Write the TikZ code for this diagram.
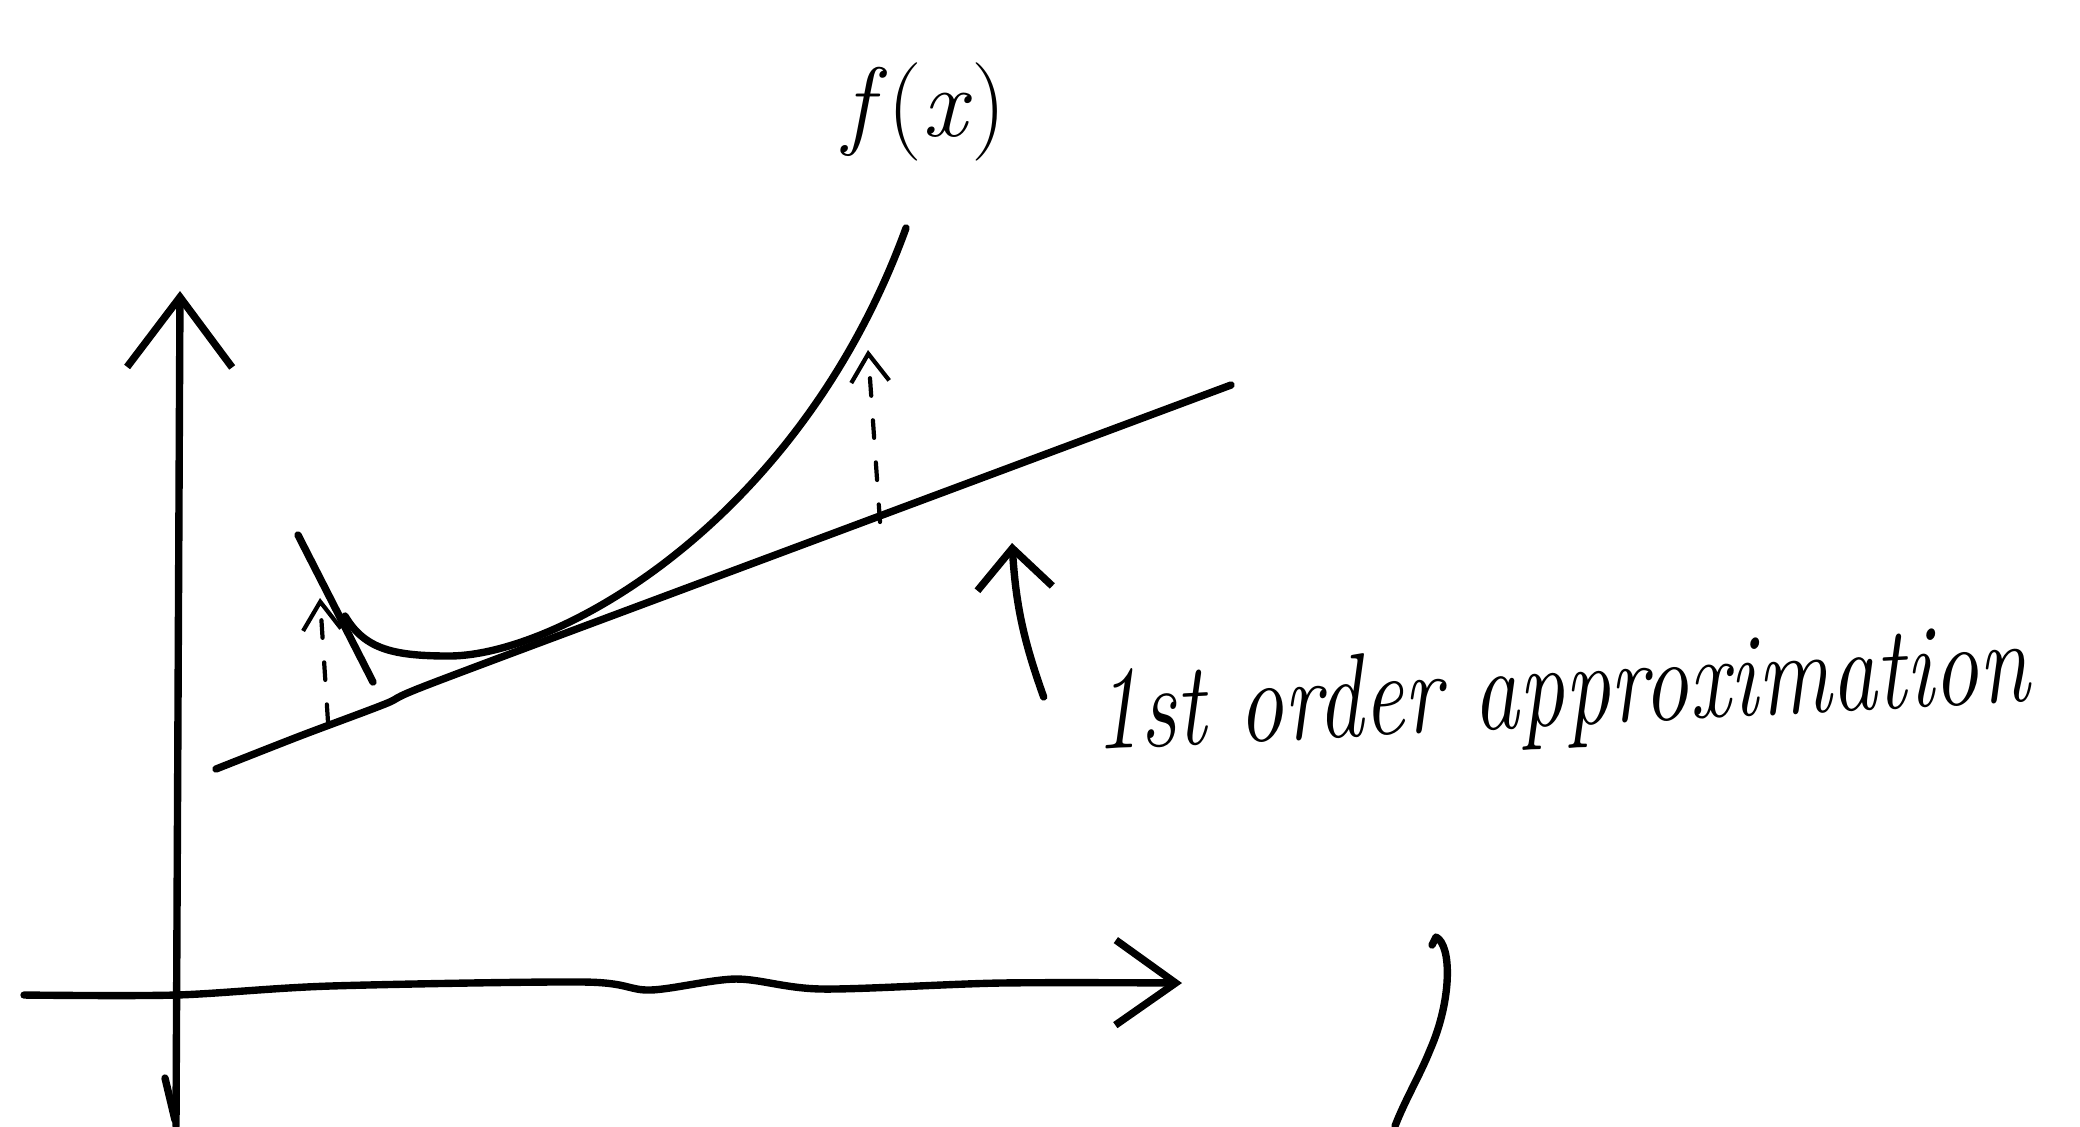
\documentclass[tikz,border=0pt]{standalone}
\usepackage{fontspec}
\usepackage{tikz}
\usetikzlibrary{arrows.meta}

\begin{document}
\begin{tikzpicture}[
  x=0.01cm, y=-0.01cm,
  pen/.style={line width=2.1pt, line cap=round, line join=round},
  axis/.style={pen, -{Straight Barb[length=7mm,width=10.5mm]}},
  xaxis/.style={pen, -{Straight Barb[length=6mm,width=8.5mm]}},
  gap/.style={line width=1.2pt, line cap=round, dash pattern=on 5pt off 7pt,
    -{Straight Barb[length=2.8mm,width=3.8mm]}},
  arrow/.style={pen, -{Straight Barb[length=4mm,width=7.5mm]}},
  note/.style={font=\fontsize{26}{30}\selectfont\itshape, inner sep=0pt},
  fname/.style={font=\fontsize{28}{32}\selectfont, inner sep=0pt}
]
\useasboundingbox (0,0) rectangle (2080,1126);

\draw[axis] (176,1126) -- (180,291);
\draw[pen] (165,1078) -- (175,1120);
\draw[xaxis] plot[smooth] coordinates {(24,995) (176,995) (330,986) (584,982)
  (650,990) (736,979) (822,989) (1000,983) (1182,983)};

\draw[pen] plot[smooth, tension=0.5] coordinates {(216,769) (300,736) (385,704)
  (430,684) (700,583) (1231,385)};
\draw[pen] (298,535) -- (373,682);
\draw[pen] (345,616) .. controls (365,650) and (395,656) .. (450,656)
  .. controls (560,655) and (800,520) .. (906,228);

\coordinate (gapL) at (328,722);
\coordinate (topL) at (320,598);
\coordinate (gapR) at (880,522);
\coordinate (topR) at (868,350);
\draw[gap] (gapL) -- (topL);
\draw[gap] (gapR) -- (topR);

\node[fname] (fx) at (925,112) {\textit{f}(\textit{x})};
\node[note, anchor=base west, rotate=3] (approx) at (1095,750)
  {\scalebox{1}[1.3]{1st order approximation}};

\coordinate (touch) at (1012,543);
\draw[arrow] ([shift={(-47,30)}]approx.north west) to[bend left=8] (touch);

\draw[pen] (1432,945) -- (1436,937) .. controls (1452,945) and (1452,1000) .. (1430,1050)
  .. controls (1420,1075) and (1405,1100) .. (1395,1126);
\end{tikzpicture}
\end{document}
